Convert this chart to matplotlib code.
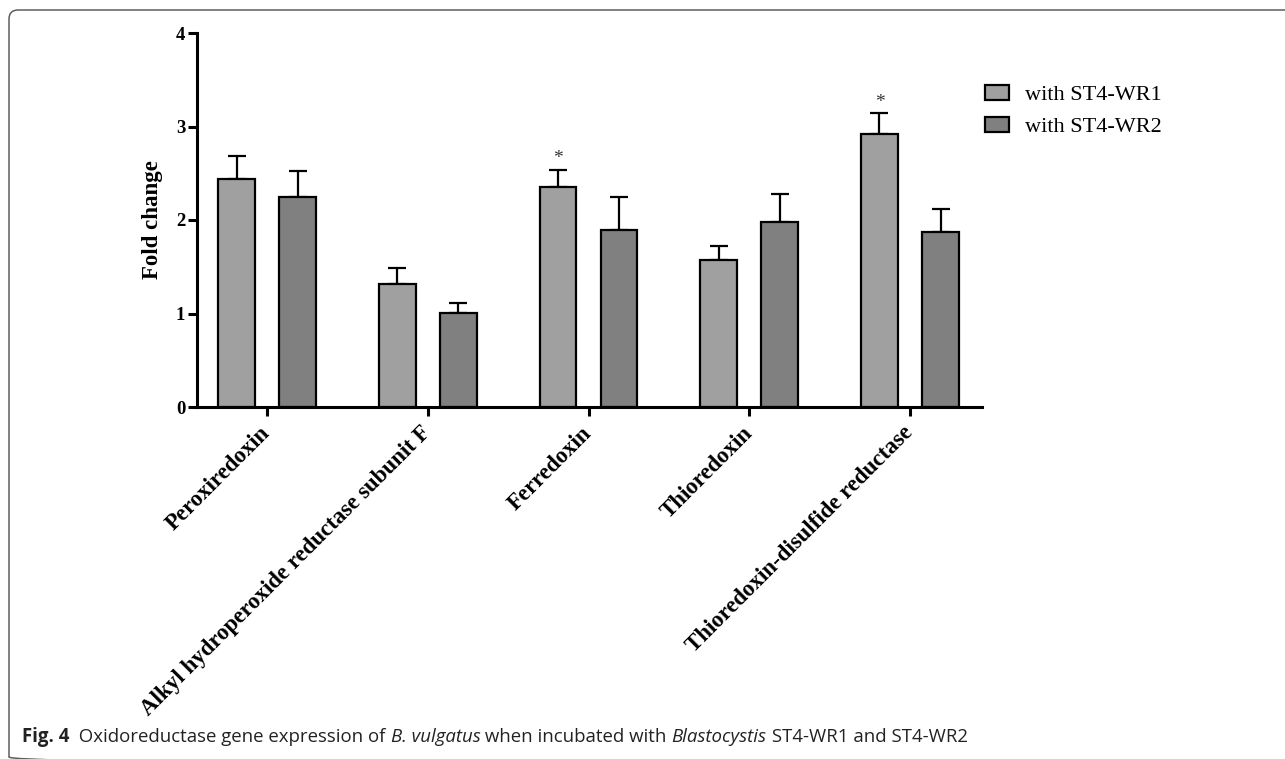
import numpy as np
import matplotlib
matplotlib.use('Agg')
import matplotlib.pyplot as plt
from matplotlib.patches import FancyBboxPatch

genes = ['Peroxiredoxin', 'Alkyl hydroperoxide reductase subunit F', 'Ferredoxin',
         'Thioredoxin', 'Thioredoxin-disulfide reductase']
wr1_mean = [2.44, 1.32, 2.35, 1.57, 2.92]
wr1_err = [0.24, 0.17, 0.19, 0.15, 0.22]
wr2_mean = [2.25, 1.01, 1.89, 1.98, 1.87]
wr2_err = [0.27, 0.10, 0.36, 0.30, 0.25]
wr1_sig = [False, False, True, False, True]
series_labels = ['with ST4-WR1', 'with ST4-WR2']
y_ticks = [0, 1, 2, 3, 4]

W, H = 1285, 759
fig = plt.figure(figsize=(W / 100, H / 100), dpi=100)
serif = 'Liberation Serif'

# frame around the figure panel (bottom edge falls just outside the picture)
bg = fig.add_axes([0, 0, 1, 1], zorder=-5)
bg.set_xlim(0, W)
bg.set_ylim(H, 0)
bg.axis('off')
bg.add_patch(FancyBboxPatch((9, 10), 1330, 756, boxstyle='round,pad=0,rounding_size=9',
                            fc='none', ec='#5e5e5e', lw=1.1))

ax = fig.add_axes([197 / W, 1 - 407 / H, 785 / W, 374 / H])
x = np.arange(len(genes))
off = 0.19
bw = 0.228
c1, c2 = '#a0a0a0', '#808080'

ax.bar(x - off, wr1_mean, bw, color=c1, edgecolor='black', linewidth=1.6, zorder=2,
       label=series_labels[0])
ax.bar(x + off, wr2_mean, bw, color=c2, edgecolor='black', linewidth=1.6, zorder=2,
       label=series_labels[1])
ax.errorbar(x - off, wr1_mean, yerr=[np.zeros(len(x)), wr1_err], fmt='none', ecolor='black',
            elinewidth=1.6, capsize=6.8, capthick=1.6, zorder=1)
ax.errorbar(x + off, wr2_mean, yerr=[np.zeros(len(x)), wr2_err], fmt='none', ecolor='black',
            elinewidth=1.6, capsize=6.8, capthick=1.6, zorder=1)

for xi, m, e, s in zip(x, wr1_mean, wr1_err, wr1_sig):
    if s:
        ax.annotate('*', (xi - off, m + e), xytext=(0, 2), textcoords='offset points',
                    ha='center', va='bottom', fontsize=14, family=serif, color='#333333')

ax.set_xlim(-0.436, 4.448)
ax.set_ylim(0, 4)
ax.set_yticks(y_ticks)
ax.set_yticklabels([str(t) for t in y_ticks], fontsize=13.5, fontweight='bold', family=serif)
ax.set_xticks(x)
ax.set_xticklabels(genes, rotation=45, ha='right', va='center', rotation_mode='anchor',
                   fontsize=16.5, fontweight='bold', family=serif)
for sp in ['top', 'right']:
    ax.spines[sp].set_visible(False)
for sp in ['left', 'bottom']:
    ax.spines[sp].set_linewidth(2.2)
    ax.spines[sp].set_zorder(5)
ax.tick_params(axis='both', width=2.2, length=6.5, color='black')
ax.tick_params(axis='y', pad=2)
ax.tick_params(axis='x', pad=10)
ax.set_ylabel('Fold change', fontsize=16.5, fontweight='bold', family=serif)
ax.yaxis.set_label_coords(-0.043, 0.5)
ax.set_facecolor('none')

fig.legend(loc='upper left', bbox_to_anchor=(985 / W, 1 - 85 / H), frameon=False,
           prop={'family': serif, 'size': 16}, handlelength=1.07, handleheight=0.65,
           handletextpad=0.75, labelspacing=0.52, borderpad=0, borderaxespad=0)

# caption, built piece by piece
pieces = [('Fig. 4', 'bold', 'normal'), ('  Oxidoreductase gene expression of ', 'normal', 'normal'),
          ('B. vulgatus', 'normal', 'italic'), (' when incubated with ', 'normal', 'normal'),
          ('Blastocystis', 'normal', 'italic'), (' ST4-WR1 and ST4-WR2', 'normal', 'normal')]
renderer = fig.canvas.get_renderer()
cx = 22
for txt, wt, st in pieces:
    t = fig.text(cx / W, 1 - 742 / H, txt, fontsize=13.4, family='Open Sans', fontweight=wt,
                 fontstyle=st, ha='left', va='baseline', color='#222222')
    bb = t.get_window_extent(renderer)
    cx = bb.x1

fig.savefig('out.png', dpi=100)
